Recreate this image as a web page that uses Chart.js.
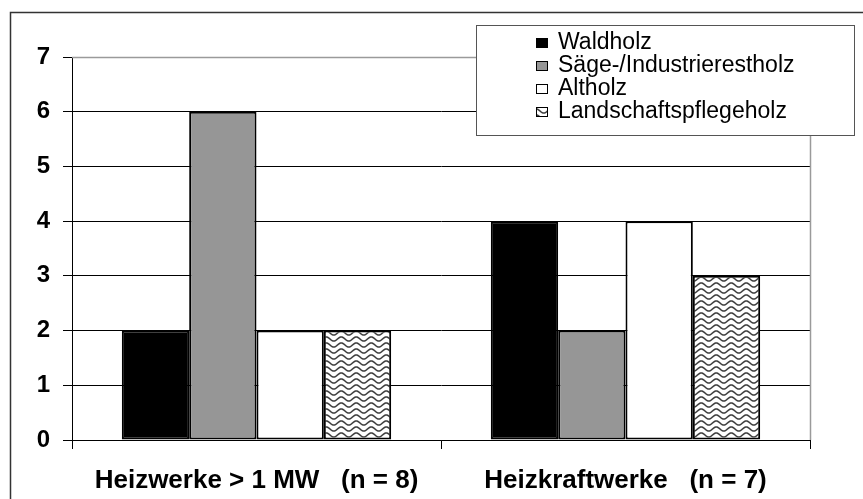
<!DOCTYPE html>
<html>
<head>
<meta charset="utf-8">
<script src="https://cdn.jsdelivr.net/npm/chart.js@4/dist/chart.umd.min.js"></script>
<style>
  html, body { margin: 0; padding: 0; background: #fff; }
  canvas { display: block; }
</style>
</head>
<body>
<canvas id="c" width="863" height="499"></canvas>
<script>
// ---- data ----
const categories = ["Heizwerke > 1 MW   (n = 8)", "Heizkraftwerke   (n = 7)"];
const seriesNames = ["Waldholz", "Säge-/Industrierestholz", "Altholz", "Landschaftspflegeholz"];
const waldholz = [2, 4];
const saegeIndustrierestholz = [6, 2];
const altholz = [2, 4];
const landschaftspflegeholz = [2, 3];
const yTicks = [0, 1, 2, 3, 4, 5, 6, 7];

// ---- wave pattern ----
function makeWave() {
  const t = document.createElement('canvas');
  t.width = 15; t.height = 6;
  const g = t.getContext('2d');
  g.fillStyle = '#fff';
  g.fillRect(0, 0, 15, 6);
  g.strokeStyle = '#3c3c3c';
  g.lineWidth = 1.5;
  g.beginPath();
  for (let x = -1; x <= 16; x += 0.5) {
    const y = 3 + 2 * Math.sin((2 * Math.PI * x) / 15);
    if (x === -1) g.moveTo(x, y); else g.lineTo(x, y);
  }
  g.stroke();
  return document.getElementById('c').getContext('2d').createPattern(t, 'repeat');
}
const wave = makeWave();
const fills = ['#000000', '#969696', '#ffffff', wave];
const values = [waldholz, saegeIndustrierestholz, altholz, landschaftspflegeholz];

const bgPlugin = {
  id: 'bg',
  beforeDraw(chart) {
    const ctx = chart.ctx;
    ctx.save();
    ctx.fillStyle = '#fff';
    ctx.fillRect(0, 0, chart.width, chart.height);
    ctx.restore();
  }
};

const framePlugin = {
  id: 'frame',
  afterDraw(chart) {
    const ctx = chart.ctx;
    const a = chart.chartArea;
    ctx.save();
    // gray plot border (top & right)
    ctx.strokeStyle = '#9a9a9a';
    ctx.lineWidth = 1.5;
    ctx.beginPath();
    ctx.moveTo(a.left, Math.round(a.top) + 0.5);
    ctx.lineTo(Math.round(a.right) + 0.5, Math.round(a.top) + 0.5);
    ctx.lineTo(Math.round(a.right) + 0.5, a.bottom);
    ctx.stroke();

    // legend box
    const bx = 476.5, by = 25.5, bw = 378, bh = 110;
    ctx.fillStyle = '#fff';
    ctx.fillRect(bx, by, bw, bh);
    ctx.strokeStyle = '#555';
    ctx.lineWidth = 1;
    ctx.strokeRect(bx, by, bw, bh);
    ctx.font = '23px "Liberation Sans", Arial, sans-serif';
    ctx.textBaseline = 'middle';
    ctx.textAlign = 'left';
    chart.data.datasets.forEach((ds, i) => {
      const cy = 43 + i * 23;
      ctx.fillStyle = ds.backgroundColor;
      ctx.fillRect(536, cy - 5, 12, 10);
      ctx.strokeStyle = '#000';
      ctx.lineWidth = 1;
      ctx.strokeRect(536.5, cy - 4.5, 11, 9);
      ctx.fillStyle = '#000';
      ctx.fillText(ds.label, 558, cy);
    });

    // outer frame
    ctx.strokeStyle = '#333';
    ctx.lineWidth = 1.5;
    ctx.beginPath();
    ctx.moveTo(10.5, chart.height + 2);
    ctx.lineTo(10.5, 12.5);
    ctx.lineTo(chart.width + 2, 12.5);
    ctx.stroke();
    ctx.restore();
  }
};

new Chart(document.getElementById('c'), {
  type: 'bar',
  data: {
    labels: categories,
    datasets: seriesNames.map((name, i) => ({
      label: name,
      data: values[i],
      backgroundColor: fills[i],
      borderColor: '#000',
      borderWidth: 2,
      borderSkipped: false,
      barPercentage: 1,
      categoryPercentage: 0.73
    }))
  },
  options: {
    responsive: false,
    animation: false,
    devicePixelRatio: 1,
    layout: { padding: { top: 57, right: 53, left: 0, bottom: 0 } },
    plugins: { legend: { display: false }, tooltip: { enabled: false } },
    scales: {
      x: {
        grid: { offset: true, drawOnChartArea: false, color: '#000', tickLength: 9, lineWidth: 1 },
        border: { display: true, color: '#000', width: 1 },
        ticks: { color: '#000', font: { family: '"Liberation Sans", Arial, sans-serif', size: 26, weight: 'bold' }, padding: 16, maxRotation: 0, autoSkip: false },
        afterFit(scale) { scale.height = 59; }
      },
      y: {
        min: 0, max: 7,
        afterBuildTicks(scale) { scale.ticks = yTicks.map(v => ({ value: v })); },
        grid: { color: '#000', tickLength: 9, lineWidth: 1 },
        border: { display: true, color: '#000', width: 1 },
        ticks: { color: '#000', font: { family: '"Liberation Sans", Arial, sans-serif', size: 24, weight: 'bold' }, padding: 13 },
        afterFit(scale) { scale.width = 72; }
      }
    }
  },
  plugins: [bgPlugin, framePlugin]
});
</script>
</body>
</html>
